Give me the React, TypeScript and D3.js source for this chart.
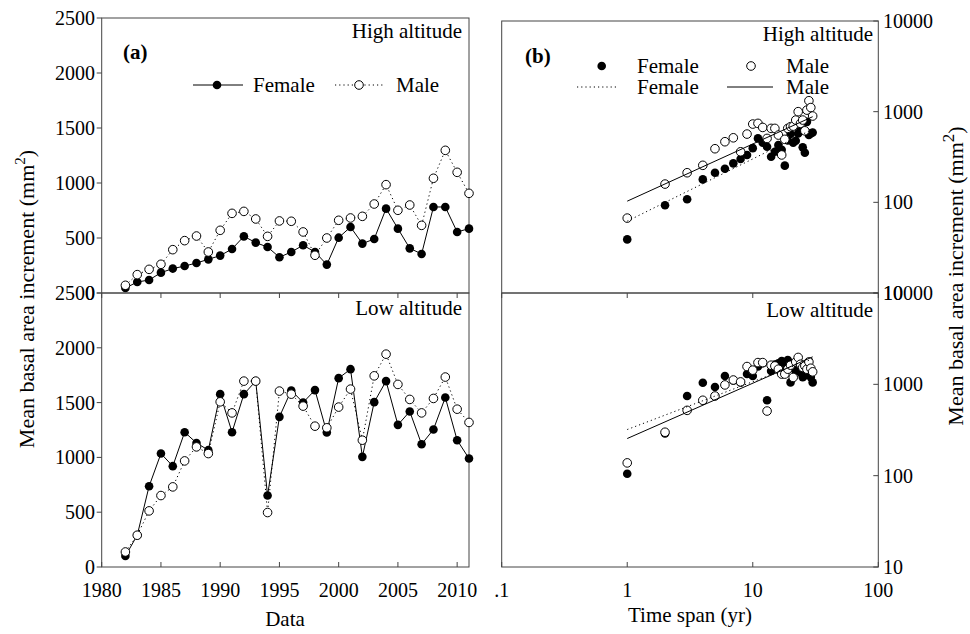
import React from 'react';
import * as d3 from 'd3';

// panel (a): yearly mean BAI
const years = [1982, 1983, 1984, 1985, 1986, 1987, 1988, 1989, 1990, 1991, 1992, 1993, 1994, 1995, 1996,
  1997, 1998, 1999, 2000, 2001, 2002, 2003, 2004, 2005, 2006, 2007, 2008, 2009, 2010, 2011];
const highFemale = [45, 100, 118, 185, 222, 245, 273, 306, 340, 400, 515, 458, 418, 325, 373,
  434, 373, 258, 503, 600, 449, 491, 767, 585, 406, 355, 782, 782, 555, 585];
const highMale = [70, 167, 215, 261, 394, 476, 518, 373, 570, 724, 742, 673, 515, 655, 652,
  555, 343, 500, 661, 682, 697, 809, 985, 752, 800, 615, 1043, 1297, 1097, 906];
const lowFemale = [100, 290, 737, 1035, 920, 1230, 1132, 1066, 1577, 1230, 1577, 1696, 652, 1370, 1611,
  1501, 1614, 1227, 1723, 1805, 1005, 1504, 1696, 1297, 1419, 1120, 1255, 1547, 1157, 990];
const lowMale = [137, 290, 512, 652, 731, 968, 1096, 1035, 1507, 1406, 1696, 1696, 497, 1605, 1577,
  1468, 1285, 1270, 1459, 1623, 1157, 1744, 1942, 1666, 1529, 1406, 1538, 1733, 1440, 1319];

// panel (b): BAI against time span
const spans = [1, 2, 3, 4, 5, 6, 7, 8, 9, 10, 11, 12, 13, 14, 15, 16, 17, 18, 19, 20,
  21, 22, 23, 24, 25, 26, 27, 28, 29, 30];
const spanHighFemale = [39, 93, 108, 179, 212, 235, 269, 300, 333, 396, 507, 454, 410, 318, 361,
  429, 380, 254, 480, 566, 454, 478, 576, 620, 404, 352, 772, 552, 576, 590];
const spanHighMale = [67, 159, 212, 256, 390, 466, 515, 361, 566, 730, 743, 670, 507, 654, 654,
  552, 333, 495, 654, 682, 693, 808, 1000, 743, 808, 615, 1040, 1320, 1110, 895];
const spanLowFemale = [105, 290, 745, 1040, 935, 1235, 1100, 1050, 1300, 1235, 1566, 1700, 669, 1400, 1650,
  1700, 1800, 1560, 1850, 1050, 1500, 1400, 1700, 1350, 1200, 1250, 1500, 1300, 1200, 1050];
const spanLowMale = [138, 299, 519, 669, 745, 985, 1115, 1063, 1566, 1430, 1730, 1730, 510, 1620, 1590,
  1465, 1295, 1295, 1465, 1620, 1190, 1760, 1970, 1660, 1530, 1590, 1465, 1760, 1500, 1370];

// fitted power lines [span, value] at the ends
const fitHighFemale = [[1, 62], [30, 640]];
const fitHighMale = [[1, 103], [30, 880]];
const fitLowFemale = [[1, 320], [30, 1900]];
const fitLowMale = [[1, 255], [30, 2000]];

const xTicksA = [1980, 1985, 1990, 1995, 2000, 2005, 2010];
const yTicksA = [0, 500, 1000, 1500, 2000, 2500];
const xTicksB = [0.1, 1, 10, 100];
const yTicksB = [10, 100, 1000, 10000];

const FONT = 'Liberation Serif, Times New Roman, serif';
const R = 4.3;
const FRAME = '#444';

const App = () => {
  const top = 18;
  const mid = 293;
  const bottom = 567;

  const xA = d3.scaleLinear().domain([1980, 2011]).range([101.7, 469]);
  const yAHigh = d3.scaleLinear().domain([0, 2500]).range([mid, top]);
  const yALow = d3.scaleLinear().domain([0, 2500]).range([bottom, mid]);

  const xB = d3.scaleLog().domain([0.1, 100]).range([501.7, 878.3]);
  const yBHigh = d3.scaleLog().domain([10, 10000]).range([mid, 21]);
  const yBLow = d3.scaleLog().domain([10, 10000]).range([bottom, mid]);

  const yearLine = (vals, y) => d3.line<number>().x((_, i) => xA(years[i])).y(d => y(d))(vals);
  const fitLine = (pts, y) => d3.line<number[]>().x(d => xB(d[0])).y(d => y(d[1]))(pts);

  const panelA = (female, male, y, label, yTop, labelY) => (
    <g>
      <rect x={xA(1980)} y={yTop} width={xA(2011) - xA(1980)} height={y(0) - yTop} fill="none" stroke={FRAME} />
      <path d={yearLine(female, y)} fill="none" stroke="#000" strokeWidth={1} />
      <path d={yearLine(male, y)} fill="none" stroke="#000" strokeWidth={1} strokeDasharray="1.2,3" />
      {female.map((v, i) => <circle key={'f' + i} cx={xA(years[i])} cy={y(v)} r={R} fill="#000" />)}
      {male.map((v, i) => <circle key={'m' + i} cx={xA(years[i])} cy={y(v)} r={R} fill="#fff" stroke="#000" strokeWidth={1} />)}
      {yTicksA.map(t => (
        <g key={t}>
          <line x1={xA(1980) - 5} x2={xA(1980)} y1={y(t)} y2={y(t)} stroke={FRAME} />
          <text x={95} y={y(t)} dy="0.35em" textAnchor="end" fontSize={20}>{t}</text>
        </g>
      ))}
      <text x={462} y={labelY} textAnchor="end" fontSize={21}>{label}</text>
    </g>
  );

  const panelB = (female, male, fitF, fitM, y, label, yTop, labelY) => (
    <g>
      <rect x={xB(0.1)} y={yTop} width={xB(100) - xB(0.1)} height={y(10) - yTop} fill="none" stroke={FRAME} />
      {female.map((v, i) => <circle key={'f' + i} cx={xB(spans[i])} cy={y(v)} r={R} fill="#000" />)}
      {male.map((v, i) => <circle key={'m' + i} cx={xB(spans[i])} cy={y(v)} r={R} fill="#fff" stroke="#000" strokeWidth={1} />)}
      <path d={fitLine(fitF, y)} fill="none" stroke="#000" strokeWidth={1} strokeDasharray="1.2,3" />
      <path d={fitLine(fitM, y)} fill="none" stroke="#000" strokeWidth={1} />
      {yTicksB.map(t => (
        <g key={t}>
          <line x1={xB(100) - 5} x2={xB(100)} y1={y(t)} y2={y(t)} stroke={FRAME} />
          <text x={883} y={y(t)} dy="0.35em" fontSize={20}>{t}</text>
        </g>
      ))}
      <text x={873} y={labelY} textAnchor="end" fontSize={21}>{label}</text>
    </g>
  );

  return (
    <svg width={970} height={634} style={{ position: 'absolute', left: 0, top: 0, background: '#fff', fontFamily: FONT }}>
      {/* panel (a) */}
      {panelA(highFemale, highMale, yAHigh, 'High altitude', top, 38)}
      {panelA(lowFemale, lowMale, yALow, 'Low altitude', mid, 315)}
      {xTicksA.map(t => (
        <g key={t}>
          <line x1={xA(t)} x2={xA(t)} y1={mid} y2={mid + 5} stroke={FRAME} />
          <line x1={xA(t)} x2={xA(t)} y1={bottom - 5} y2={bottom} stroke={FRAME} />
          <text x={xA(t)} y={597} textAnchor="middle" fontSize={20}>{t}</text>
        </g>
      ))}
      <text x={123} y={59} fontSize={21} fontWeight="bold">(a)</text>
      <line x1={193} x2={243} y1={85} y2={85} stroke="#000" />
      <circle cx={217} cy={85} r={R} fill="#000" />
      <text x={253} y={92} fontSize={21}>Female</text>
      <line x1={335} x2={383} y1={85} y2={85} stroke="#000" strokeDasharray="1.2,3" />
      <circle cx={359} cy={85} r={R} fill="#fff" stroke="#000" />
      <text x={396} y={92} fontSize={21}>Male</text>
      <text x={285} y={626} textAnchor="middle" fontSize={21}>Data</text>
      <text transform="translate(34,299) rotate(-90)" textAnchor="middle" fontSize={22}>
        Mean basal area increment (mm<tspan dy={-9} fontSize={15}>2</tspan><tspan dy={9}>)</tspan>
      </text>

      {/* panel (b) */}
      {panelB(spanHighFemale, spanHighMale, fitHighFemale, fitHighMale, yBHigh, 'High altitude', 21, 41)}
      {panelB(spanLowFemale, spanLowMale, fitLowFemale, fitLowMale, yBLow, 'Low altitude', mid, 317)}
      {xTicksB.map(t => (
        <g key={t}>
          <line x1={xB(t)} x2={xB(t)} y1={mid} y2={mid + 5} stroke={FRAME} />
          <line x1={xB(t)} x2={xB(t)} y1={bottom - 5} y2={bottom} stroke={FRAME} />
          <text x={xB(t)} y={597} textAnchor="middle" fontSize={20}>{t === 0.1 ? '.1' : t}</text>
        </g>
      ))}
      <text x={525} y={63} fontSize={21} fontWeight="bold">(b)</text>
      <circle cx={601.7} cy={66} r={R} fill="#000" />
      <text x={637} y={73} fontSize={21}>Female</text>
      <circle cx={751} cy={66} r={R} fill="#fff" stroke="#000" />
      <text x={786} y={73} fontSize={21}>Male</text>
      <line x1={577} x2={617} y1={87} y2={87} stroke="#000" strokeDasharray="1.2,3" />
      <text x={637} y={94} fontSize={21}>Female</text>
      <line x1={727} x2={773} y1={87} y2={87} stroke="#000" />
      <text x={786} y={94} fontSize={21}>Male</text>
      <text x={690} y={622} textAnchor="middle" fontSize={21}>Time span (yr)</text>
      <text transform="translate(963,276) rotate(-90)" textAnchor="middle" fontSize={22}>
        Mean basal area increment (mm<tspan dy={-9} fontSize={17}>2</tspan><tspan dy={9}>)</tspan>
      </text>
    </svg>
  );
};

export default App;
